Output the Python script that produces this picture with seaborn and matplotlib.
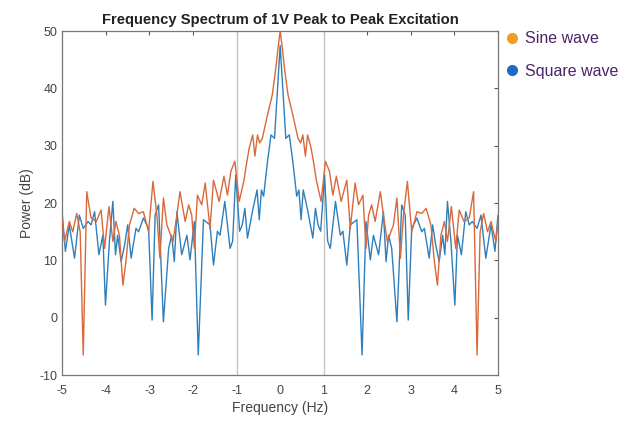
import numpy as np
import pandas as pd
import matplotlib
matplotlib.use("Agg")
import matplotlib.pyplot as plt
from matplotlib.lines import Line2D
import seaborn as sns

# one-sided spectrum (0..5 Hz); the spectrum is mirrored about 0 Hz
sine_freq = [0, 0.05, 0.1, 0.18, 0.29, 0.36, 0.41, 0.47, 0.52, 0.58, 0.63, 0.71, 0.77, 0.83,
             0.94, 1.04, 1.13, 1.21, 1.29, 1.40, 1.53, 1.61, 1.72, 1.80, 1.90, 1.97, 2.03,
             2.10, 2.18, 2.30, 2.37, 2.46, 2.60, 2.68, 2.76, 2.83, 2.92, 3.02, 3.14, 3.25,
             3.35, 3.46, 3.54, 3.61, 3.69, 3.77, 3.84, 3.93, 4.03, 4.11, 4.22, 4.34, 4.44,
             4.52, 4.59, 4.67, 4.76, 4.84, 4.95, 5.0]
sine_power = [50, 47, 43.5, 38.9, 35.4, 33, 31.3, 30.5, 31.9, 28.2, 31.9, 29.6, 27, 24,
              20.3, 27.3, 25.6, 21.4, 24.7, 20.3, 24, 15.6, 23.5, 19.7, 21.4, 12.1, 17.9,
              19.7, 16.8, 22, 17.9, 13.3, 16.2, 20.9, 10.4, 17.9, 23.8, 15, 18.5, 18.2,
              19.1, 16.2, 9.8, 5.7, 14.4, 16.8, 13.3, 19.4, 12.1, 18.8, 16.8, 17.4, 22,
              -6.5, 15, 18.2, 15, 16.8, 13.3, 16.8]

square_freq = [0, 0.06, 0.13, 0.21, 0.29, 0.38, 0.43, 0.48, 0.53, 0.63, 0.75, 0.81, 0.87,
               0.93, 1.02, 1.09, 1.15, 1.27, 1.38, 1.44, 1.53, 1.61, 1.76, 1.88, 1.97, 2.07,
               2.14, 2.26, 2.37, 2.43, 2.49, 2.56, 2.68, 2.79, 2.87, 2.94, 3.02, 3.14, 3.25,
               3.31, 3.42, 3.50, 3.57, 3.65, 3.73, 3.78, 3.84, 3.92, 4.01, 4.07, 4.16, 4.26,
               4.34, 4.41, 4.52, 4.61, 4.72, 4.84, 4.93, 5.0]
square_power = [47.5, 40, 31.3, 31.9, 27.3, 21.2, 22.3, 17.1, 22.3, 18.8, 13.9, 19.1, 16.2,
                15.1, 24.9, 13.4, 12.1, 20.3, 14.4, 15.1, 9.2, 16.2, 17.1, -6.5, 16.8, 10.1,
                14.4, 11, 18.5, 9.8, 14.4, 12.1, -0.7, 19.7, 17.9, -0.4, 15.6, 17.4, 15,
                15.6, 10.4, 16.2, 12.7, 9.8, 14.4, 11, 20.3, 13.3, 2.2, 14.4, 11, 18.5,
                16.2, 16.8, 15.6, 17.9, 10.4, 16.2, 11.6, 17.9]

x_ticks = [-5, -4, -3, -2, -1, 0, 1, 2, 3, 4, 5]
y_ticks = [-10, 0, 10, 20, 30, 40, 50]
markers_hz = [-1, 1]


def two_sided(freq, power):
    f = np.array(freq)
    p = np.array(power)
    return np.concatenate([-f[:0:-1], f]), np.concatenate([p[:0:-1], p])


sf, sp = two_sided(sine_freq, sine_power)
qf, qp = two_sided(square_freq, square_power)
sine = pd.DataFrame({"freq": sf, "power": sp})
square = pd.DataFrame({"freq": qf, "power": qp})

sns.set_style("white")
plt.rcParams["font.family"] = ["Liberation Sans", "DejaVu Sans"]
plt.rcParams["axes.unicode_minus"] = False

fig = plt.figure(figsize=(6.36, 4.21), dpi=100)
ax = fig.add_axes([0.098, 0.109, 0.685, 0.817])

for m in markers_hz:
    ax.axvline(m, color="#c4c4c4", lw=1.0, zorder=1)

sns.lineplot(data=square, x="freq", y="power", color="#2f7fbd", lw=1.0, ax=ax, zorder=2)
sns.lineplot(data=sine, x="freq", y="power", color="#d9683a", lw=1.0, ax=ax, zorder=3)

ax.set_xlim(-5, 5)
ax.set_ylim(-10, 50)
ax.set_xticks(x_ticks)
ax.set_yticks(y_ticks)
ax.tick_params(direction="in", length=3, width=0.8, color="#555555",
               top=True, right=True, labelsize=9, labelcolor="#444444")
ax.tick_params(axis="x", pad=7)
for s in ax.spines.values():
    s.set_color("#777777")
    s.set_linewidth(0.9)

ax.set_xlabel("Frequency (Hz)", fontsize=10, color="#444444", labelpad=3)
ax.set_ylabel("Power (dB)", fontsize=10, color="#444444")
ax.set_title("Frequency Spectrum of 1V Peak to Peak Excitation",
             fontsize=10.6, fontweight="bold", pad=5, color="#222222")

handles = [Line2D([], [], ls="none", marker="o", ms=7, color="#f39c1f"),
           Line2D([], [], ls="none", marker="o", ms=7, color="#1c6cc4")]
fig.legend(handles, ["Sine wave", "Square wave"], loc="upper left",
           bbox_to_anchor=(0.77, 0.96), frameon=False, fontsize=11.5,
           labelcolor="#4b2466", handletextpad=0.3, labelspacing=1.1, handlelength=1.0)

fig.savefig("out.png", dpi=100)
